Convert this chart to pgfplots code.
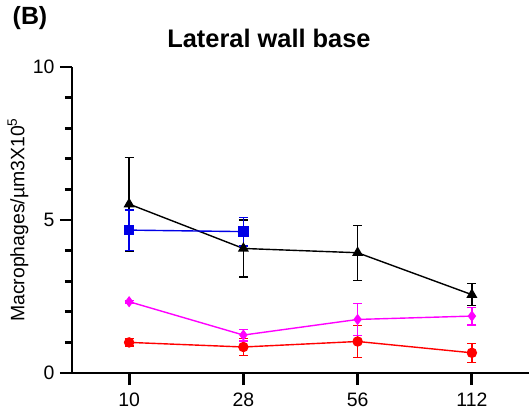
\documentclass[border=0pt]{standalone}
\usepackage{pgfplots}
\pgfplotsset{compat=1.18}
\usepackage{fontspec}
\setmainfont{Liberation Sans}

\definecolor{cblue}{RGB}{0,0,230}
\definecolor{cmag}{RGB}{255,0,255}
\definecolor{cred}{RGB}{255,0,0}

\pgfplotsset{
  errstyle/.style={
    error bars/.cd, y dir=both, y explicit,
    error bar style={line width=1.4bp, color=#1},
    error mark options={rotate=90, mark size=4.5bp, line width=1.4bp, color=#1}
  }
}

\begin{document}
\begin{tikzpicture}
\useasboundingbox (0,0) rectangle (530bp,412bp);
\begin{axis}[
    at={(72bp,39bp)}, anchor=south west,
    scale only axis,
    width=457bp, height=306bp,
    xmin=-0.5, xmax=3.5,
    ymin=0, ymax=10,
    axis lines=left,
    axis line style={-, line width=2.9bp},
    every tick/.style={line width=2.9bp, black},
    tick align=outside,
    major tick length=12bp,
    minor tick length=7bp,
    xtick={0,1,2,3},
    xticklabels={10,28,56,112},
    ytick={0,5,10},
    minor ytick={1,2,3,4,6,7,8,9},
    tick label style={font=\fontsize{19.5}{22}\selectfont},
    /pgf/number format/assume math mode=true,
    xticklabel style={yshift=-4bp},
    yticklabel style={xshift=-2bp},
    ylabel={Macrophages/µm3X10\textsuperscript{5}},
    ylabel style={at={(axis description cs:-0.118,0.5)}, anchor=center,
                  font=\fontsize{19.5}{22}\selectfont},
    title={\bfseries Lateral wall base},
    title style={at={(axis description cs:0.431,1.075)}, anchor=center,
                 font=\fontsize{25.5}{28}\selectfont},
    clip=false,
]

% red, circles
\addplot[cred, line width=1.4bp, mark=*, mark size=4.5bp, errstyle=cred]
  table[x=x, y=y, y error=e] {
x y e
0 1.00 0.12
1 0.85 0.28
2 1.03 0.53
3 0.66 0.31
};

% magenta, diamonds
\addplot[cmag, line width=1.4bp, mark=diamond*, mark size=4.5bp, errstyle=cmag]
  table[x=x, y=y, y error=e] {
x y e
0 2.33 0.04
1 1.24 0.19
2 1.75 0.53
3 1.86 0.29
};

% black, triangles
\addplot[black, line width=1.4bp, mark=triangle*, mark size=5bp, errstyle=black]
  table[x=x, y=y, y error=e] {
x y e
0 5.52 1.53
1 4.07 0.93
2 3.93 0.90
3 2.56 0.36
};

% blue, squares
\addplot[cblue, line width=1.4bp, mark=square*, mark size=4.5bp, errstyle=cblue]
  table[x=x, y=y, y error=e] {
x y e
0 4.67 0.66
1 4.62 0.47
};

\end{axis}
\node[font=\fontsize{25}{28}\selectfont\bfseries] at (30bp,394bp) {(B)};
\end{tikzpicture}
\end{document}
